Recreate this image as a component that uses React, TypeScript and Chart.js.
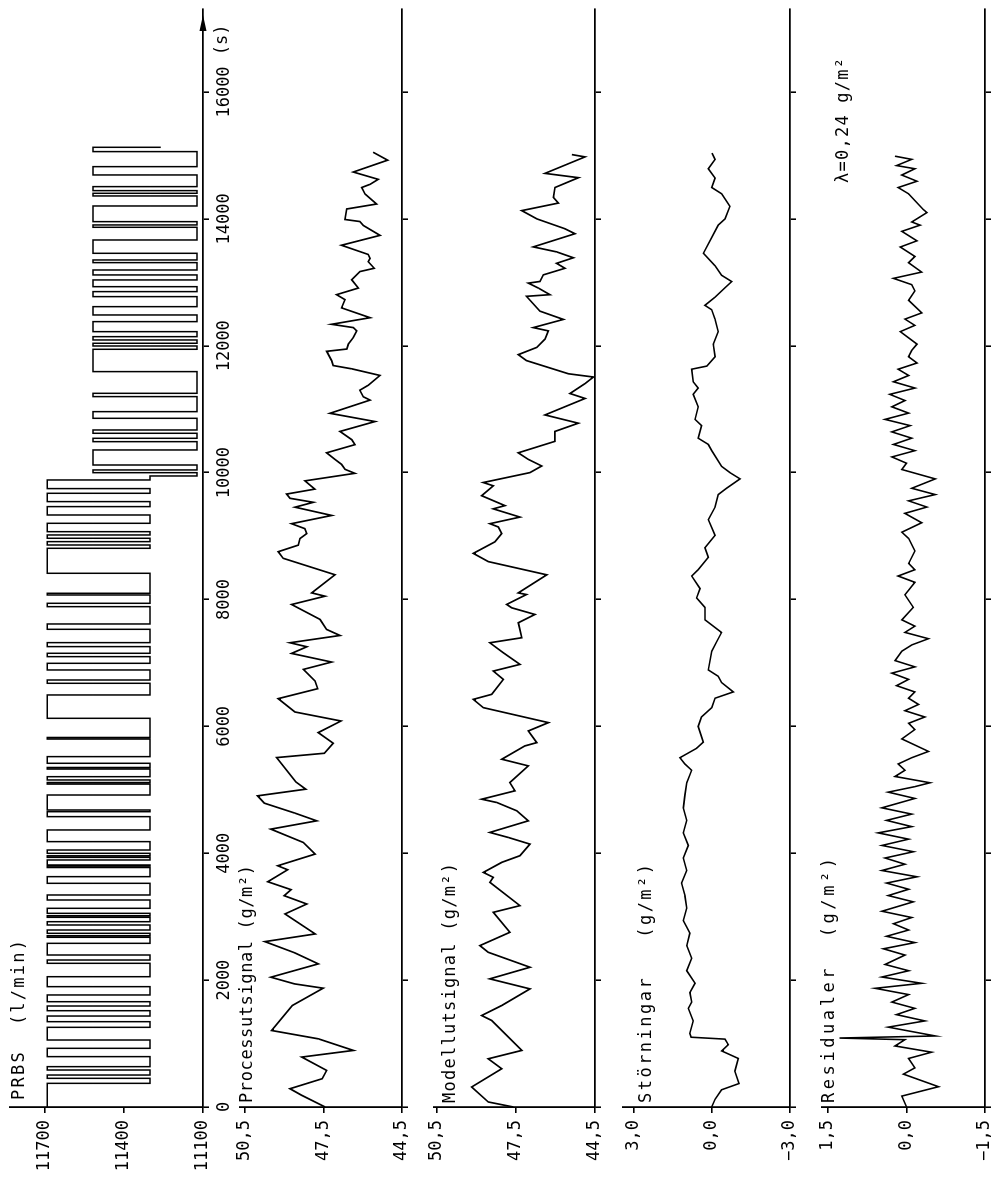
import React, { useEffect, useRef } from "react";
import { Chart, registerables } from "chart.js";

Chart.register(...registerables);

const FONT = "'DejaVu Sans Mono', 'Liberation Mono', monospace";
Chart.defaults.font.family = FONT;
Chart.defaults.font.size = 17;
Chart.defaults.color = "#000";

// ---------------- data ----------------
const timeTicks = [0, 2000, 4000, 6000, 8000, 10000, 12000, 14000, 16000];
const timeUnit = "(s)";

// PRBS (l/min): intervals where the signal is at its high level
const prbsHighA: [number, number][] = [
  [0, 373], [452, 504], [583, 636], [794, 925], [1056, 1256], [1345, 1434], [1518, 1592],
  [1660, 1766], [1897, 2054], [2265, 2317], [2396, 2580], [2675, 2700], [2738, 2790],
  [2869, 2921], [2990, 3015], [3053, 3132], [3263, 3342], [3526, 3631], [3775, 3800],
  [3815, 3894], [3935, 3960], [3999, 4051], [4183, 4367], [4577, 4655], [4682, 4918],
  [5090, 5115], [5155, 5207], [5327, 5352], [5418, 5523], [5800, 5825], [6127, 6495],
  [6679, 6731], [6889, 6994], [7099, 7152], [7257, 7320], [7530, 7614], [7887, 7940],
  [8071, 8098], [8413, 8807], [8859, 8912], [8965, 9017], [9069, 9201], [9332, 9464],
  [9543, 9674], [9748, 9884],
];
const prbsHighB: [number, number][] = [
  [9999, 10042], [10120, 10357], [10488, 10541], [10620, 10672], [10856, 10961],
  [11198, 11250], [11592, 11944], [11996, 12039], [12091, 12143], [12222, 12380],
  [12485, 12616], [12774, 12853], [12931, 13037], [13116, 13194], [13310, 13352],
  [13457, 13667], [13867, 13904], [13956, 14203], [14361, 14403], [14445, 14508],
  [14692, 14823], [15060, 15128],
];
const prbsLevelsA = [11692, 11301]; // high, low (first part)
const prbsLevelsB = [11518, 11123]; // high, low (second part)
const prbsShiftTime = 9947;
const prbsEndValue = 11260;
const prbsTicks = [11100, 11400, 11700];

// Processutsignal (g/m2): [time, value]
const processSignal: [number, number][] = [
  [0, 47.44], [184, 48.33], [288, 48.78], [446, 47.55], [577, 47.38], [787, 48.33], [892, 46.36],
  [1075, 47.7], [1206, 49.48], [1600, 48.69], [1873, 47.51], [1941, 48.61], [2046, 49.51],
  [2256, 47.7], [2429, 48.59], [2607, 49.74], [2728, 47.82], [3043, 48.97], [3200, 48.14],
  [3331, 49.0], [3426, 48.74], [3551, 49.63], [3740, 48.87], [3803, 49.25], [3987, 47.82],
  [4170, 48.27], [4380, 49.51], [4511, 47.76], [4632, 48.59], [4790, 49.76], [4905, 50.02],
  [5010, 48.18], [5125, 48.56], [5508, 49.29], [5576, 47.47], [5734, 47.13], [5902, 47.7],
  [6085, 46.83], [6227, 48.59], [6437, 49.23], [6594, 47.72], [6715, 47.82], [6898, 48.27],
  [7014, 47.19], [7150, 48.72], [7255, 48.14], [7318, 48.78], [7433, 46.87], [7528, 47.38],
  [7685, 47.63], [7921, 48.72], [8052, 47.44], [8104, 47.95], [8390, 47.06], [8649, 49.04],
  [8753, 49.23], [8857, 48.46], [8961, 48.4], [9039, 48.14], [9117, 48.21], [9195, 48.72],
  [9325, 47.19], [9455, 48.59], [9532, 47.89], [9595, 48.78], [9662, 48.91], [9740, 47.83],
  [9870, 48.21], [9989, 46.3], [10052, 46.68], [10130, 46.81], [10208, 47.06], [10312, 47.38],
  [10441, 46.3], [10519, 46.42], [10649, 46.87], [10805, 45.53], [10935, 47.25], [11143, 45.72],
  [11195, 45.98], [11299, 46.11], [11377, 45.79], [11532, 45.34], [11636, 46.42], [11688, 47.13],
  [11766, 47.19], [11912, 47.38], [11948, 46.61], [12026, 46.55], [12130, 46.36], [12234, 46.23],
  [12286, 46.36], [12338, 47.19], [12442, 45.72], [12597, 46.81], [12727, 46.68], [12805, 47.0],
  [12909, 46.17], [13039, 46.42], [13169, 46.11], [13221, 45.56], [13325, 45.79], [13377, 45.72],
  [13439, 45.79], [13584, 46.81], [13740, 45.34], [13896, 45.98], [13958, 46.11], [13990, 46.68],
  [14156, 46.61], [14234, 45.47], [14390, 45.91], [14494, 46.04], [14545, 45.72], [14623, 45.41],
  [14738, 46.36], [14925, 45.05], [15050, 45.6],
];
const processTicks = [44.5, 47.5, 50.5];

// Modellutsignal (g/m2)
const modelSignal: [number, number][] = [
  [0, 47.6], [79, 48.55], [315, 49.18], [603, 48.04], [760, 48.55], [892, 47.28], [1364, 48.42],
  [1442, 48.8], [1600, 48.04], [1862, 46.97], [2020, 48.49], [2203, 46.97], [2439, 48.55],
  [2544, 48.87], [2754, 47.73], [3069, 48.36], [3174, 47.35], [3541, 48.49], [3620, 48.36],
  [3698, 48.74], [3856, 48.04], [3961, 47.35], [4144, 46.97], [4249, 47.79], [4328, 48.49],
  [4511, 47.03], [4669, 47.47], [4800, 48.23], [4852, 48.8], [4984, 47.54], [5115, 47.73],
  [5377, 47.03], [5482, 48.04], [5692, 47.16], [5744, 46.71], [5928, 47.03], [6059, 46.27],
  [6295, 48.74], [6426, 49.12], [6505, 48.42], [6741, 47.98], [6872, 48.36], [6977, 47.35],
  [7161, 47.98], [7318, 48.49], [7397, 47.28], [7633, 47.41], [7764, 46.78], [7869, 47.66],
  [7922, 47.85], [8078, 47.1], [8104, 47.41], [8389, 46.33], [8597, 48.55], [8727, 49.12],
  [8909, 48.3], [9039, 48.04], [9143, 48.17], [9195, 48.49], [9299, 47.35], [9429, 48.36],
  [9480, 47.92], [9636, 48.8], [9792, 48.36], [9844, 48.74], [10000, 46.97], [10104, 46.52],
  [10208, 47.03], [10312, 47.41], [10493, 46.02], [10649, 46.02], [10779, 45.13], [10909, 46.4],
  [11169, 44.88], [11247, 45.45], [11403, 44.88], [11507, 44.56], [11558, 45.51], [11766, 47.1],
  [11860, 47.41], [11974, 46.71], [12104, 46.4], [12234, 46.27], [12286, 46.84], [12415, 45.7],
  [12545, 46.59], [12779, 47.1], [12805, 46.21], [12909, 46.65], [12987, 47.03], [13013, 46.59],
  [13117, 46.46], [13221, 45.64], [13299, 45.96], [13387, 45.32], [13480, 45.96], [13558, 46.84],
  [13766, 45.26], [13844, 45.64], [14000, 46.71], [14130, 47.28], [14249, 45.89], [14338, 46.08],
  [14494, 46.02], [14649, 45.13], [14717, 46.4], [14977, 44.88], [15013, 45.38],
];
const modelTicks = [44.5, 47.5, 50.5];

// Störningar (g/m2)
const disturbanceSignal: [number, number][] = [
  [0, 0.01], [123, -0.12], [271, -0.37], [370, -1.04], [567, -0.88], [765, -1.01], [884, -0.37],
  [982, -0.63], [1070, -0.5], [1100, 0.8], [1160, 0.85], [1357, 0.72], [1555, 0.91], [1654, 0.78],
  [1802, 0.85], [1950, 0.65], [2148, 0.97], [2345, 0.78], [2543, 0.97], [2740, 0.85], [2938, 1.1],
  [3135, 0.97], [3333, 1.04], [3530, 1.17], [3728, 0.97], [3925, 1.1], [4123, 0.91], [4321, 1.1],
  [4518, 0.97], [4716, 1.1], [4913, 1.04], [5111, 0.97], [5308, 0.78], [5407, 1.04], [5506, 1.23],
  [5654, 0.59], [5752, 0.33], [5999, 0.53], [6148, 0.4], [6296, 0.01], [6444, -0.12], [6543, -0.82],
  [6691, -0.37], [6790, -0.24], [6889, 0.14], [7185, 0.01], [7333, -0.18], [7481, -0.37],
  [7679, 0.27], [7876, 0.27], [8024, 0.59], [8173, 0.46], [8370, 0.78], [8469, 0.53], [8666, 0.14],
  [8815, 0.27], [9012, -0.12], [9259, 0.14], [9457, -0.12], [9654, -0.24], [9753, -0.56],
  [9901, -1.08], [10000, -0.69], [10099, -0.37], [10346, 0.01], [10444, 0.14], [10543, 0.53],
  [10741, 0.4], [10839, 0.65], [11037, 0.53], [11234, 0.72], [11333, 0.53], [11432, 0.72],
  [11630, 0.78], [11679, 0.2], [11827, -0.12], [12025, -0.05], [12222, -0.24], [12420, -0.12],
  [12568, 0.01], [12637, 0.27], [12765, -0.12], [12914, -0.5], [13012, -0.76], [13111, -0.37],
  [13259, -0.12], [13457, 0.33], [13901, -0.24], [14000, -0.5], [14198, -0.69], [14395, -0.37],
  [14494, 0.01], [14642, -0.12], [14790, 0.14], [14938, -0.12], [15037, 0.0],
];
const disturbanceTicks = [-3, 0, 3];

// Residualer (g/m2)
const residualSignal: [number, number][] = [
  [0, 0.0], [172, 0.09], [320, -0.61], [518, 0.06], [617, -0.16], [765, -0.04], [864, -0.48],
  [962, 0.22], [1061, 0.03], [1087, 1.28], [1120, -0.55], [1259, 0.35], [1357, -0.35], [1456, 0.19],
  [1555, -0.16], [1654, 0.28], [1772, -0.04], [1871, 0.6], [1950, -0.29], [2049, 0.47],
  [2148, -0.04], [2247, 0.41], [2395, 0.03], [2494, 0.44], [2592, -0.16], [2691, 0.38],
  [2790, -0.04], [2889, 0.25], [2987, -0.1], [3086, 0.47], [3234, -0.13], [3333, 0.35],
  [3432, -0.04], [3530, 0.38], [3629, -0.2], [3728, 0.47], [3827, 0.03], [3925, 0.41],
  [4024, -0.13], [4123, 0.47], [4222, -0.04], [4321, 0.54], [4420, -0.1], [4518, 0.38],
  [4617, -0.1], [4716, 0.47], [4864, -0.16], [4963, 0.35], [5050, -0.16], [5111, -0.45],
  [5210, 0.22], [5308, 0.03], [5407, 0.16], [5506, -0.1], [5605, -0.42], [5802, 0.09],
  [5950, -0.16], [6049, -0.04], [6148, -0.35], [6247, 0.03], [6346, -0.23], [6444, -0.04],
  [6543, -0.16], [6642, 0.19], [6741, -0.04], [6839, 0.28], [6938, -0.16], [7037, 0.22],
  [7185, 0.09], [7284, -0.1], [7382, -0.42], [7481, 0.03], [7580, -0.16], [7679, 0.09],
  [7876, -0.13], [8074, 0.03], [8271, -0.16], [8370, 0.16], [8469, -0.16], [8568, -0.04],
  [8765, -0.16], [8963, -0.04], [9061, 0.09], [9210, -0.29], [9358, 0.03], [9457, -0.39],
  [9555, -0.04], [9654, -0.55], [9753, -0.1], [9901, -0.55], [10049, 0.09], [10148, 0.0],
  [10247, 0.28], [10346, -0.16], [10444, 0.25], [10543, -0.1], [10642, 0.28], [10741, -0.07],
  [10839, 0.41], [10938, -0.04], [11037, 0.28], [11136, 0.03], [11234, 0.32], [11333, -0.16],
  [11432, 0.25], [11531, -0.04], [11630, 0.16], [11728, -0.2], [11827, -0.04], [11926, -0.1],
  [12025, -0.2], [12222, 0.12], [12321, -0.16], [12420, 0.03], [12518, -0.29], [12716, -0.04],
  [12864, -0.16], [12963, -0.1], [13062, 0.25], [13161, -0.29], [13309, -0.04], [13407, -0.16],
  [13556, 0.12], [13654, -0.2], [13803, 0.09], [13901, -0.26], [13951, -0.1], [14099, -0.39],
  [14148, -0.32], [14395, -0.04], [14494, 0.16], [14593, -0.2], [14691, 0.09], [14790, -0.16],
  [14840, 0.19], [14938, -0.1], [14988, 0.22],
];
const residualTicks = [-1.5, 0, 1.5];

const titlePrbs = "PRBS  (l/min)";
const titleProcess = "Processutsignal (g/m²)";
const titleModel = "Modellutsignal (g/m²)";
const titleDisturbance = "Störningar   (g/m²)";
const titleResidual = "Residualer  (g/m²)";
const lambdaText = "λ=0,24 g/m²";

// ---------------- helpers ----------------
function buildPrbs() {
  const pts: { x: number; y: number }[] = [{ x: 0, y: prbsLevelsA[0] }];
  prbsHighA.forEach(([s, e]) => {
    if (s > 0) pts.push({ x: s, y: prbsLevelsA[0] });
    pts.push({ x: e, y: prbsLevelsA[1] });
  });
  pts.push({ x: prbsShiftTime, y: prbsLevelsB[1] });
  prbsHighB.forEach(([s, e], i) => {
    pts.push({ x: s, y: prbsLevelsB[0] });
    pts.push({ x: e, y: i === prbsHighB.length - 1 ? prbsEndValue : prbsLevelsB[1] });
  });
  return pts;
}
const toPts = (arr: [number, number][]) => arr.map(([x, y]) => ({ x, y }));
const fmtDec = (v: number) => v.toFixed(1).replace(".", ",").replace("-", "\u2212");
const fmtInt = (v: number) => String(v);

function drawSpaced(ctx: CanvasRenderingContext2D, text: string, x: number, y: number, width: number) {
  const chars = Array.from(text);
  const ws = chars.map((c) => ctx.measureText(c).width);
  const total = ws.reduce((a, b) => a + b, 0);
  const gap = chars.length > 1 ? (width - total) / (chars.length - 1) : 0;
  let cx = x;
  chars.forEach((c, i) => {
    ctx.fillText(c, cx, y);
    cx += ws[i] + gap;
  });
}

type TextSpec = { text: string; u: number; v: number; width: number };
type PanelSpec = {
  key: string;
  height: number;
  padTop: number;
  axisHeight: number;
  yMin: number;
  yMax: number;
  yTicks: number[];
  yFormat: (v: number) => string;
  points: { x: number; y: number }[];
  stepped: boolean;
  lineWidth: number;
  timeLabels: boolean;
  arrow: boolean;
  texts: TextSpec[];
};

const T_MAX = 17308;
const TICK_LEN = 6;

const panels: PanelSpec[] = [
  {
    key: "prbs", height: 236, padTop: 10, axisHeight: 33,
    yMin: 11100, yMax: 11833, yTicks: prbsTicks, yFormat: fmtInt,
    points: buildPrbs(), stepped: true, lineWidth: 1.5, timeLabels: true, arrow: true,
    texts: [{ text: titlePrbs, u: 77, v: 20, width: 160 }],
  },
  {
    key: "process", height: 192, padTop: 4, axisHeight: 26,
    yMin: 44.5, yMax: 50.69, yTicks: processTicks, yFormat: fmtDec,
    points: toPts(processSignal), stepped: false, lineWidth: 1.7, timeLabels: false, arrow: false,
    texts: [{ text: titleProcess, u: 74, v: 12, width: 238 }],
  },
  {
    key: "model", height: 187, padTop: 6, axisHeight: 20,
    yMin: 44.5, yMax: 50.61, yTicks: modelTicks, yFormat: fmtDec,
    points: toPts(modelSignal), stepped: false, lineWidth: 1.7, timeLabels: false, arrow: false,
    texts: [{ text: titleModel, u: 74, v: 23, width: 240 }],
  },
  {
    key: "dist", height: 200, padTop: 8, axisHeight: 25,
    yMin: -3, yMax: 3.42, yTicks: disturbanceTicks, yFormat: fmtDec,
    points: toPts(disturbanceSignal), stepped: false, lineWidth: 1.6, timeLabels: false, arrow: false,
    texts: [{ text: titleDisturbance, u: 74, v: 32, width: 239 }],
  },
  {
    key: "res", height: 180, padTop: 7, axisHeight: 10,
    yMin: -1.5, yMax: 1.615, yTicks: residualTicks, yFormat: fmtDec,
    points: toPts(residualSignal), stepped: false, lineWidth: 1.6, timeLabels: false, arrow: false,
    texts: [
      { text: titleResidual, u: 74, v: 15, width: 245 },
      { text: lambdaText, u: 994, v: 29, width: 125 },
    ],
  },
];

function overlay(spec: PanelSpec) {
  return {
    id: "overlay_" + spec.key,
    afterDraw(chart: any) {
      const ctx = chart.ctx as CanvasRenderingContext2D;
      ctx.save();
      ctx.fillStyle = "#000";
      ctx.font = `17px ${FONT}`;
      ctx.textBaseline = "middle";
      ctx.textAlign = "left";
      spec.texts.forEach((t) => drawSpaced(ctx, t.text, t.u, t.v, t.width));
      if (spec.arrow) {
        const area = chart.chartArea;
        const tip = area.right - 6;
        const y = area.bottom;
        ctx.beginPath();
        ctx.moveTo(tip, y);
        ctx.lineTo(tip - 16, y - 3.5);
        ctx.lineTo(tip - 16, y + 3.5);
        ctx.closePath();
        ctx.fill();
        const xs = chart.scales.x.getPixelForValue(16820);
        ctx.textAlign = "center";
        ctx.textBaseline = "top";
        ctx.fillText(timeUnit, xs, area.bottom + TICK_LEN + 5);
      }
      ctx.restore();
    },
  };
}

function Panel({ spec }: { spec: PanelSpec }) {
  const ref = useRef<HTMLCanvasElement | null>(null);
  useEffect(() => {
    if (!ref.current) return;
    const chart = new Chart(ref.current, {
      type: "line",
      data: {
        datasets: [
          {
            data: spec.points,
            borderColor: "#000",
            borderWidth: spec.lineWidth,
            pointRadius: 0,
            fill: false,
            tension: 0,
            stepped: spec.stepped,
          },
        ],
      },
      options: {
        animation: false,
        responsive: false,
        devicePixelRatio: 1,
        layout: { padding: { top: spec.padTop, right: 9, left: 0, bottom: 0 } },
        plugins: { legend: { display: false }, tooltip: { enabled: false }, title: { display: false } },
        scales: {
          x: {
            type: "linear",
            min: 0,
            max: T_MAX,
            afterBuildTicks: (s: any) => {
              s.ticks = timeTicks.map((v) => ({ value: v }));
            },
            afterFit: (s: any) => {
              s.height = spec.axisHeight;
              s.paddingLeft = 0;
              s.paddingRight = 0;
            },
            grid: { drawOnChartArea: false, drawTicks: true, tickLength: TICK_LEN, color: "#000", lineWidth: 1.6 },
            border: { display: true, color: "#000", width: 1.8 },
            ticks: {
              display: spec.timeLabels,
              autoSkip: false,
              maxRotation: 0,
              minRotation: 0,
              padding: 5,
              color: "#000",
              font: { family: FONT, size: 17 },
              callback: (v: any) => String(v),
            },
          },
          y: {
            type: "linear",
            min: spec.yMin,
            max: spec.yMax,
            afterBuildTicks: (s: any) => {
              s.ticks = spec.yTicks.map((v) => ({ value: v }));
            },
            afterFit: (s: any) => {
              s.width = 70;
              s.paddingTop = 0;
              s.paddingBottom = 0;
            },
            grid: { drawOnChartArea: false, drawTicks: true, tickLength: TICK_LEN, color: "#000", lineWidth: 1.6 },
            border: { display: true, color: "#000", width: 1.8 },
            ticks: {
              autoSkip: false,
              padding: 7,
              color: "#000",
              font: { family: FONT, size: 17 },
              callback: (v: any) => spec.yFormat(Number(v)),
            },
          },
        },
      } as any,
      plugins: [overlay(spec)],
    });
    return () => chart.destroy();
  }, [spec]);
  return (
    <canvas
      ref={ref}
      width={1177}
      height={spec.height}
      style={{ display: "block", width: 1177, height: spec.height }}
    />
  );
}

export default function App() {
  return (
    <div
      style={{
        position: "absolute",
        left: 0,
        top: 0,
        width: 995,
        height: 1177,
        overflow: "hidden",
        background: "#fff",
      }}
    >
      <div
        style={{
          position: "absolute",
          left: 0,
          top: 0,
          width: 1177,
          height: 995,
          transformOrigin: "0 0",
          transform: "translateY(1177px) rotate(-90deg)",
        }}
      >
        {panels.map((p) => (
          <Panel key={p.key} spec={p} />
        ))}
      </div>
    </div>
  );
}
